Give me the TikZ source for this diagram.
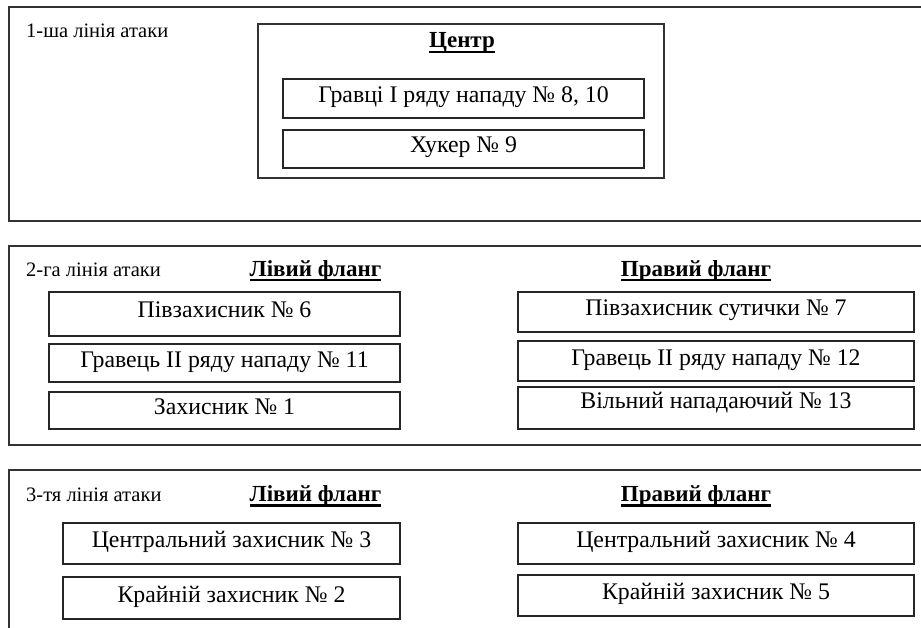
\documentclass[tikz,border=0pt]{standalone}
\usepackage{fontspec}
\setmainfont{Liberation Serif}
\newsavebox\ulbox
\newcommand\ulin[1]{\sbox\ulbox{#1}\rlap{\rule[-5pt]{\wd\ulbox}{2.2pt}}\usebox\ulbox}
\begin{document}
\begin{tikzpicture}[x=1pt,y=-1pt,
  frame/.style={draw=black!80, line width=1.4pt, inner sep=0pt},
  cbox/.style={draw=black!85, line width=1.2pt, inner sep=0pt,
    font=\fontsize{23.8}{27}\selectfont, text height=16pt, text depth=8pt},
  lbl/.style={anchor=base west, inner sep=0pt, font=\fontsize{20.5}{24}\selectfont},
  head/.style={anchor=base, inner sep=0pt, font=\fontsize{23}{27}\selectfont\bfseries}]
\useasboundingbox (0,0) rectangle (921,628);
\clip (0,0) rectangle (921,628);
\fill[white] (0,0) rectangle (921,628);
% frames
\node[frame, minimum width=916pt, minimum height=214pt] (F1) at (467,114) {};
\node[frame, minimum width=916pt, minimum height=199pt] (F2) at (467,345.5) {};
\node[frame, minimum width=916pt, minimum height=170pt] (F3) at (467,555) {};
% line 1
\node[lbl] (t1) at (26,37.7) {1-ша лінія атаки};
\node[frame, line width=1.2pt, minimum width=406pt, minimum height=154pt] (C) at (461,101) {};
\node[head] (hC) at (462,48) {\ulin{Центр}};
\node[cbox, minimum width=361pt, minimum height=39pt] (c1) at (463.5,98.5) {Гравці І ряду нападу № 8, 10};
\node[cbox, minimum width=361pt, minimum height=38pt] (c2) at (463.5,149) {Хукер № 9};
% line 2
\node[lbl] (t2) at (26,276.7) {2-га лінія атаки};
\node[head] (hL2) at (315.5,276.5) {\ulin{Лівий фланг}};
\node[head] (hR2) at (696,276.5) {\ulin{Правий фланг}};
\node[cbox, minimum width=351pt, minimum height=44pt] (L2a) at (224.5,314) {Півзахисник № 6};
\node[cbox, minimum width=351pt, minimum height=38pt] (L2b) at (224.5,363) {Гравець ІІ ряду нападу № 11};
\node[cbox, minimum width=351pt, minimum height=37pt] (L2c) at (224.5,410.5) {Захисник № 1};
\node[cbox, minimum width=396pt, minimum height=40pt] (R2a) at (716,312) {Півзахисник сутички № 7};
\node[cbox, minimum width=396pt, minimum height=40pt] (R2b) at (716,361) {Гравець ІІ ряду нападу № 12};
\node[cbox, text depth=16pt, minimum width=396pt, minimum height=42pt] (R2c) at (716,408) {Вільний нападаючий № 13};
% line 3
\node[lbl] (t3) at (26,501.7) {3-тя лінія атаки};
\node[head] (hL3) at (315.5,501.5) {\ulin{Лівий фланг}};
\node[head] (hR3) at (696,501.5) {\ulin{Правий фланг}};
\node[cbox, minimum width=337pt, minimum height=41pt] (L3a) at (231.5,543.5) {Центральний захисник № 3};
\node[cbox, minimum width=337pt, minimum height=42pt] (L3b) at (231.5,598) {Крайній захисник № 2};
\node[cbox, minimum width=396pt, minimum height=41pt] (R3a) at (716,543.5) {Центральний захисник № 4};
\node[cbox, minimum width=396pt, minimum height=41pt] (R3b) at (716,595.5) {Крайній захисник № 5};
\end{tikzpicture}
\end{document}
